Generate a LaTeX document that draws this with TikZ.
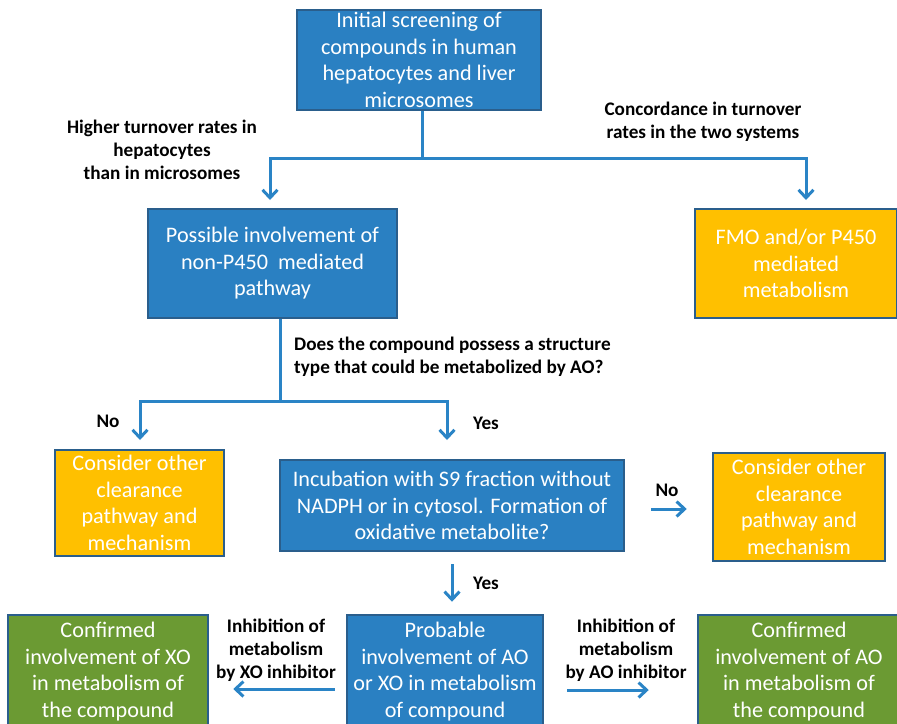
\documentclass[tikz,border=0pt]{standalone}
\usepackage{fontspec}
\setmainfont{Carlito}
\usetikzlibrary{arrows.meta,positioning}

\definecolor{boxblue}{HTML}{2A80C2}
\definecolor{boxedge}{HTML}{2A5E8C}
\definecolor{boxyellow}{HTML}{FFC000}
\definecolor{boxgreen}{HTML}{6B9A33}
\definecolor{flowblue}{HTML}{2A84C6}

\tikzset{
  box/.style={draw=boxedge, line width=2.5pt, text=white, align=center,
    inner sep=0pt, font=\fontsize{22.2}{26.5}\selectfont},
  bluebox/.style={box, fill=boxblue},
  yellowbox/.style={box, fill=boxyellow},
  greenbox/.style={box, fill=boxgreen},
  lbl/.style={align=center, inner sep=0pt, font=\bfseries\fontsize{19.2}{23}\selectfont},
  flow/.style={draw=flowblue, line width=3pt,
    -{Straight Barb[length=8pt 0, width=15pt 0, line width=3pt]}},
}

\begin{document}
\begin{tikzpicture}[x=1pt, y=-1pt]
  \useasboundingbox (0,0) rectangle (897,723);
  \clip (0,0) rectangle (897,723);

  % boxes
  \node[bluebox, minimum width=244pt, minimum height=100pt] (init) at (419,60)
    {Initial screening of\\compounds in human\\hepatocytes and liver\\microsomes};
  \node[bluebox, minimum width=249pt, minimum height=109pt] (nonp) at (272.5,263.5)
    {Possible involvement of\\non-P450\ \ mediated\\pathway};
  \node[yellowbox, minimum width=202pt, minimum height=109pt] (fmo) at (796,263.5)
    {FMO and/or P450\\mediated\\metabolism};
  \node[yellowbox, minimum width=169pt, minimum height=106pt] (other1) at (139.5,503)
    {Consider other\\clearance\\pathway and\\mechanism};
  \node[bluebox, minimum width=344pt, minimum height=91pt] (incub) at (452,505.5)
    {Incubation with S9 fraction without\\NADPH or in cytosol. Formation of\\oxidative metabolite?};
  \node[yellowbox, minimum width=172pt, minimum height=108pt] (other2) at (799,507)
    {Consider other\\clearance\\pathway and\\mechanism};
  \node[greenbox, minimum width=200pt, minimum height=113pt] (xo) at (108,671.5)
    {Confirmed\\involvement of XO\\in metabolism of\\the compound};
  \node[bluebox, minimum width=196pt, minimum height=113pt] (aoxo) at (445,671.5)
    {Probable\\involvement of AO\\or XO in metabolism\\of compound};
  \node[greenbox, minimum width=202pt, minimum height=113pt] (ao) at (799,671.5)
    {Confirmed\\involvement of AO\\in metabolism of\\the compound};

  % labels
  \node[lbl] (higher) at (162,150) {Higher turnover rates in\\hepatocytes\\than in microsomes};
  \node[lbl] (conc) at (703,122) {Concordance in turnover\\rates in the two systems};
  \node[lbl, align=left, anchor=west] (struct) at (294,357)
    {Does the compound possess a structure\\type that could be metabolized by AO?};
  \node[lbl] (no1) at (108,421) {No};
  \node[lbl] (yes1) at (486,423) {Yes};
  \node[lbl] (no2) at (667,490) {No};
  \node[lbl] (yes2) at (486,583) {Yes};
  \node[lbl] (xoinh) at (276,650) {Inhibition of\\metabolism\\by XO inhibitor};
  \node[lbl] (aoinh) at (626,650) {Inhibition of\\metabolism\\by AO inhibitor};

  % connectors
  \coordinate (fork1) at (422,158);
  \coordinate (fork2) at (280,401);
  \draw[flow, -] (init.south -| fork1) -- (fork1);
  \draw[flow, shorten >=9pt] (fork1) -| (270,209);
  \draw[flow, shorten >=9pt] (fork1) -| (806,209);
  \draw[flow, -] (nonp.south -| fork2) -- (fork2);
  \draw[flow, shorten >=10pt] (fork2) -| (140,450);
  \draw[flow, shorten >=20pt] (fork2) -| (447,460);
  \draw[flow, shorten <=26pt, shorten >=25pt] ([yshift=-3.5pt]incub.east) -- ([yshift=-3.5pt]incub.east -| other2.west);
  \draw[flow, shorten <=12pt, shorten >=12pt] (incub.south) -- (incub.south |- aoxo.north);
  \draw[flow, shorten <=11pt, shorten >=24pt] ([yshift=-17.5pt]aoxo.west) -- ([yshift=-17.5pt]aoxo.west -| xo.east);
  \draw[flow, shorten <=23pt, shorten >=48pt] ([yshift=-18.5pt]aoxo.east) -- ([yshift=-18.5pt]aoxo.east -| ao.west);
\end{tikzpicture}
\end{document}
